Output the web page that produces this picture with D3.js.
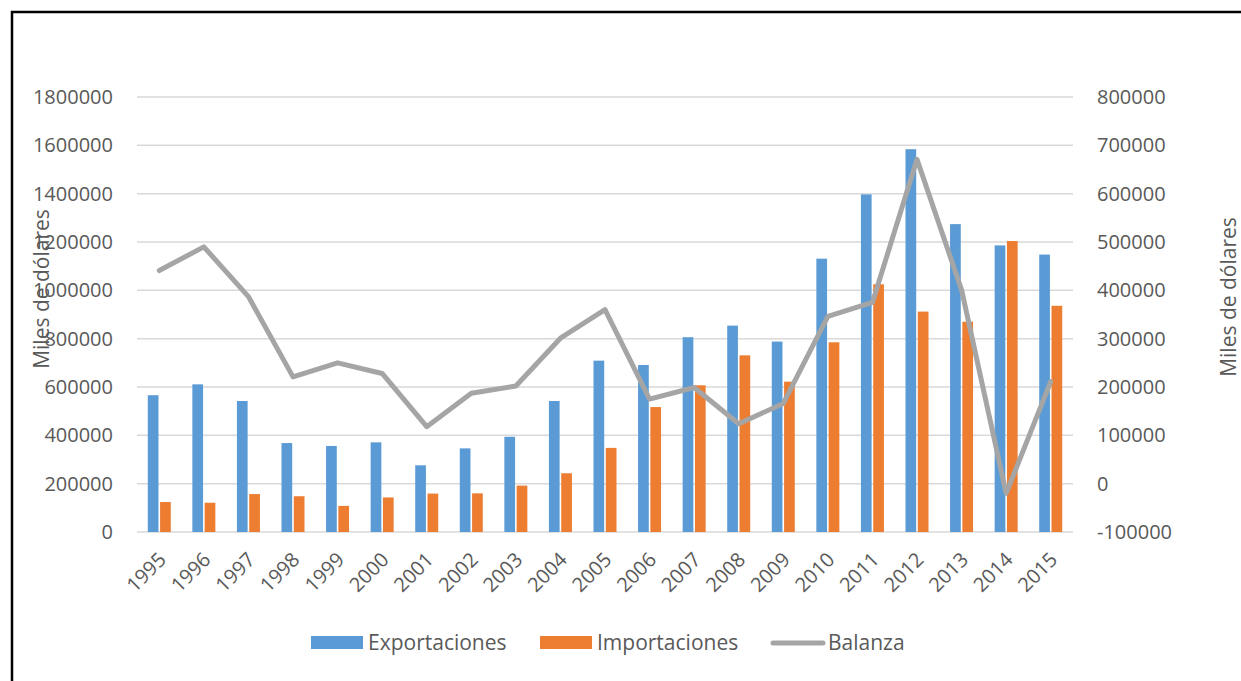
<!DOCTYPE html>
<html>
<head>
<meta charset="utf-8">
<script src="https://cdn.jsdelivr.net/npm/d3@7"></script>
<style>
  body { margin: 0; background: #fff; }
  text { font-family: "Open Sans", Lato, sans-serif; fill: #595959; }
</style>
</head>
<body>
<script>
// data
var years = ["1995","1996","1997","1998","1999","2000","2001","2002","2003","2004","2005",
             "2006","2007","2008","2009","2010","2011","2012","2013","2014","2015"];
var exportaciones = [566000, 611000, 542000, 368000, 356000, 371000, 276000, 346000, 394000, 542000, 709000,
                     691000, 806000, 854000, 788000, 1131000, 1397000, 1584000, 1274000, 1186000, 1148000];
var importaciones = [124000, 121000, 157000, 148000, 108000, 143000, 159000, 160000, 192000, 243000, 348000,
                     517000, 607000, 731000, 622000, 785000, 1025000, 912000, 870000, 1204000, 936000];
var balanza = [441000, 490000, 387000, 221000, 250000, 228000, 118000, 187000, 202000, 301000, 360000,
               175000, 199000, 124000, 166000, 346000, 375000, 671000, 401000, -20000, 211000];
var leftTicks = [0, 200000, 400000, 600000, 800000, 1000000, 1200000, 1400000, 1600000, 1800000];
var rightTicks = [-100000, 0, 100000, 200000, 300000, 400000, 500000, 600000, 700000, 800000];
var seriesNames = ["Exportaciones", "Importaciones", "Balanza"];

var W = 1241, H = 681;
var plot = { left: 137, right: 1073, top: 97, bottom: 532 };

var svg = d3.select("body").append("svg")
    .attr("width", W)
    .attr("height", H);

// outer frame (extends past the picture on right/bottom)
svg.append("rect")
  .attr("x", 12).attr("y", 12)
  .attr("width", W + 20).attr("height", H + 20)
  .attr("fill", "none")
  .attr("stroke", "#000")
  .attr("stroke-width", 2.5);

var x = d3.scaleBand()
  .domain(years)
  .range([plot.left, plot.right])
  .padding(0);

var yLeft = d3.scaleLinear()
  .domain([0, 1800000])
  .range([plot.bottom, plot.top]);

var yRight = d3.scaleLinear()
  .domain([-100000, 800000])
  .range([plot.bottom, plot.top]);

// gridlines
svg.append("g")
  .selectAll("line")
  .data(leftTicks)
  .enter()
  .append("line")
  .attr("x1", plot.left)
  .attr("x2", plot.right)
  .attr("y1", function(d) { return yLeft(d); })
  .attr("y2", function(d) { return yLeft(d); })
  .attr("stroke", "#d9d9d9")
  .attr("stroke-width", 1.5);

// plain integer labels with ascii minus
var fmt = function(d) { return String(d); };

// left axis labels
var leftAxis = d3.axisLeft(yLeft).tickValues(leftTicks).tickSize(0).tickPadding(24).tickFormat(fmt);
svg.append("g")
  .attr("transform", "translate(" + plot.left + ",0)")
  .call(leftAxis)
  .call(function(g) { g.select(".domain").remove(); })
  .selectAll("text")
  .style("font-family", "'Open Sans', Lato, sans-serif")
  .style("font-size", "20px")
  .attr("fill", "#595959");

// right axis labels
var rightAxis = d3.axisRight(yRight).tickValues(rightTicks).tickSize(0).tickPadding(24).tickFormat(fmt);
svg.append("g")
  .attr("transform", "translate(" + plot.right + ",0)")
  .call(rightAxis)
  .call(function(g) { g.select(".domain").remove(); })
  .selectAll("text")
  .style("font-family", "'Open Sans', Lato, sans-serif")
  .style("font-size", "20px")
  .attr("fill", "#595959");

// bars
var x1 = d3.scaleBand()
  .domain([0, 1])
  .range([-11.5, 11.5])
  .paddingInner(0.13);

var barColors = ["#5b9bd5", "#ed7d31"];
var barData = years.map(function(yr, i) {
  return { year: yr, values: [exportaciones[i], importaciones[i]] };
});

var groups = svg.append("g")
  .selectAll("g")
  .data(barData)
  .enter()
  .append("g")
  .attr("transform", function(d) { return "translate(" + (x(d.year) + x.bandwidth() / 2) + ",0)"; });

groups.selectAll("rect")
  .data(function(d) { return d.values; })
  .enter()
  .append("rect")
  .attr("x", function(d, i) { return x1(i); })
  .attr("width", x1.bandwidth())
  .attr("y", function(d) { return yLeft(d); })
  .attr("height", function(d) { return yLeft(0) - yLeft(d); })
  .attr("fill", function(d, i) { return barColors[i]; });

// balance line
var line = d3.line()
  .x(function(d, i) { return x(years[i]) + x.bandwidth() / 2; })
  .y(function(d) { return yRight(d); });

svg.append("path")
  .datum(balanza)
  .attr("d", line)
  .attr("fill", "none")
  .attr("stroke", "#a5a5a5")
  .attr("stroke-width", 5)
  .attr("stroke-linejoin", "round")
  .attr("stroke-linecap", "round");

// x labels, rotated
svg.append("g")
  .selectAll("text")
  .data(years)
  .enter()
  .append("text")
  .attr("transform", function(d) {
    return "translate(" + (x(d) + x.bandwidth() / 2 + 3) + "," + 556 + ") rotate(-45)";
  })
  .attr("text-anchor", "end")
  .attr("dy", "0.35em")
  .style("font-size", "20px")
  .text(function(d) { return d; });

// axis titles
svg.append("text")
  .attr("transform", "translate(49,289) rotate(-90)")
  .attr("text-anchor", "middle")
  .style("font-size", "21px")
  .text("Miles de dólares");

svg.append("text")
  .attr("transform", "translate(1236,297) rotate(-90)")
  .attr("text-anchor", "middle")
  .style("font-size", "21px")
  .text("Miles de dólares");

// legend
var legend = svg.append("g");
var legendX = [311, 540, 771];

legend.selectAll("rect")
  .data([0, 1])
  .enter()
  .append("rect")
  .attr("x", function(d) { return legendX[d]; })
  .attr("y", 636)
  .attr("width", 52)
  .attr("height", 13)
  .attr("fill", function(d) { return barColors[d]; });

legend.append("line")
  .attr("x1", legendX[2] + 2)
  .attr("x2", legendX[2] + 52)
  .attr("y1", 643)
  .attr("y2", 643)
  .attr("stroke", "#a5a5a5")
  .attr("stroke-width", 5)
  .attr("stroke-linecap", "round");

legend.selectAll("text")
  .data(seriesNames)
  .enter()
  .append("text")
  .attr("x", function(d, i) { return legendX[i] + 57; })
  .attr("y", 643)
  .attr("dy", "0.35em")
  .style("font-size", "21px")
  .text(function(d) { return d; });
</script>
</body>
</html>
